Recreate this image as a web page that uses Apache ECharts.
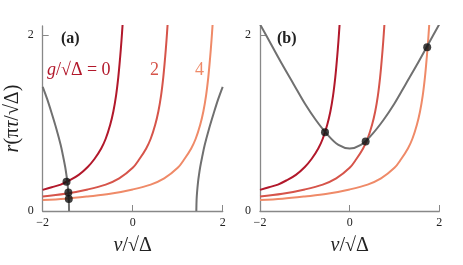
<!DOCTYPE html>
<html><head><meta charset="utf-8">
<script src="https://cdn.jsdelivr.net/npm/echarts@6/dist/echarts.min.js"></script>
<style>html,body{margin:0;padding:0;background:#fff}#c{width:463px;height:265px}</style>
</head><body><div id="c"></div>
<script>
// red curves r(v) for g/sqrt(Delta) = 0, 2, 4 (same in both panels)
const vG0 = [-2.0,-1.8,-1.6,-1.4,-1.2,-1.0,-0.85,-0.7,-0.6,-0.5,-0.43,-0.37,-0.32,-0.28,-0.25,-0.22];
const rG0 = [0.24,0.27,0.30,0.35,0.41,0.50,0.59,0.71,0.82,0.98,1.13,1.31,1.52,1.74,1.93,2.15];
const vG2 = [-2.0,-1.5,-1.0,-0.6,-0.3,0.0,0.15,0.3,0.4,0.5,0.57,0.63,0.68,0.72,0.75,0.78];
const rG2 = [0.165,0.195,0.245,0.30,0.37,0.49,0.59,0.71,0.82,0.98,1.13,1.31,1.52,1.74,1.93,2.15];
const vG4 = [-2.0,-1.5,-1.0,-0.5,0.0,0.4,0.7,1.0,1.15,1.3,1.4,1.5,1.57,1.63,1.68,1.72,1.75,1.78];
const rG4 = [0.125,0.14,0.165,0.195,0.245,0.30,0.37,0.49,0.59,0.71,0.82,0.98,1.13,1.31,1.52,1.74,1.93,2.15];
// gray curves
const vGrayAL = [-2.0,-1.9,-1.8,-1.7,-1.6,-1.55,-1.5,-1.47,-1.45,-1.43,-1.42,-1.414];
const rGrayAL = [1.41,1.27,1.11,0.94,0.75,0.63,0.50,0.40,0.32,0.21,0.13,0.0];
const vGrayAR = [1.414,1.42,1.43,1.45,1.47,1.5,1.55,1.6,1.7,1.8,1.9,2.0];
const rGrayAR = [0.0,0.13,0.21,0.32,0.40,0.50,0.63,0.75,0.94,1.11,1.27,1.41];
const vGrayB = [-2.0,-1.75,-1.5,-1.25,-1.0,-0.75,-0.5,-0.25,0.0,0.25,0.5,0.75,1.0,1.25,1.5,1.75,2.0];
const rGrayB = [2.12,1.89,1.66,1.44,1.22,1.03,0.87,0.75,0.71,0.75,0.87,1.03,1.22,1.44,1.66,1.89,2.12];
// intersection dots
const dotsA = [[-1.47,0.333],[-1.43,0.21],[-1.42,0.136]];
const dotsB = [[-0.55,0.894],[0.357,0.79],[1.73,1.86]];
const xTicks = [-2,0,2];
const yTicks = [0,2];

const zip = (a,b) => a.map((v,i)=>[v,b[i]]);
const colors = ['#b2182b','#d6544a','#ef8a68'];
const gray = '#707070';
const serif = 'Liberation Serif';

function line(data, color, idx){
  return {type:'line', data, xAxisIndex:idx, yAxisIndex:idx, smooth:0.35,
    showSymbol:false, lineStyle:{color, width:2}, z:2, clip:true};
}
const series = [];
[0,1].forEach(i=>{
  series.push(line(zip(vG0,rG0), colors[0], i));
  series.push(line(zip(vG2,rG2), colors[1], i));
  series.push(line(zip(vG4,rG4), colors[2], i));
});
series.push(line(zip(vGrayAL,rGrayAL), gray, 0));
series.push(line(zip(vGrayAR,rGrayAR), gray, 0));
series.push(line(zip(vGrayB,rGrayB), gray, 1));
series.push({type:'scatter', data:dotsA, xAxisIndex:0, yAxisIndex:0, symbolSize:8, itemStyle:{color:'#111'}, z:5});
series.push({type:'scatter', data:dotsB, xAxisIndex:1, yAxisIndex:1, symbolSize:8, itemStyle:{color:'#111'}, z:5});

const nameStyle = {fontFamily:serif, fontSize:20, color:'#222',
  rich:{i:{fontFamily:serif, fontStyle:'italic', fontSize:20, color:'#222'}}};
function xAx(idx){
  return {type:'value', gridIndex:idx, min:-2, max:2, interval:2,
    axisLine:{onZero:false, lineStyle:{color:'#888', width:1.3}},
    axisTick:{inside:true, length:6, lineStyle:{color:'#888'}, customValues:xTicks},
    axisLabel:{color:'#222', fontFamily:serif, fontSize:12, margin:6, customValues:xTicks,
      formatter:v=>String(v).replace('-','\u2212')},
    splitLine:{show:false},
    name:'{i|v}/\u221A\u0394', nameLocation:'middle', nameGap:25,
    nameTextStyle:nameStyle};
}
function yAx(idx, named){
  const a = {type:'value', gridIndex:idx, min:0, max:2.1,
    axisLine:{show:true, onZero:false, lineStyle:{color:'#888', width:1.3}},
    axisTick:{show:true, inside:true, length:6, lineStyle:{color:'#888'}, customValues:yTicks},
    axisLabel:{color:'#222', fontFamily:serif, fontSize:12, margin:9, customValues:yTicks},
    splitLine:{show:false}};
  if(named){
    a.name='{i|r}(\u03C0{i|\u03C4}/\u221A\u0394)'; a.nameLocation='middle'; a.nameGap=20;
    a.nameTextStyle=nameStyle;
  }
  return a;
}

const chart = echarts.init(document.getElementById('c'));
chart.setOption({
  animation:false,
  grid:[
    {left:42.7, right:240.3, top:26, bottom:54},
    {left:260, right:23.7, top:26, bottom:54}
  ],
  xAxis:[xAx(0), xAx(1)],
  yAxis:[yAx(0,true), yAx(1,false)],
  graphic:[
    {type:'text', left:61, top:31, style:{text:'(a)', font:'bold 16px "Liberation Serif"', fill:'#222'}},
    {type:'text', left:277, top:31, style:{text:'(b)', font:'bold 16px "Liberation Serif"', fill:'#222'}},
    {type:'text', left:47, top:61, style:{text:'{i|g}/\u221A\u0394 = 0', font:'18px "Liberation Serif"', fill:colors[0],
      rich:{i:{font:'italic 18px "Liberation Serif"', fill:colors[0]}}}},
    {type:'text', left:150, top:61, style:{text:'2', font:'18px "Liberation Serif"', fill:colors[1]}},
    {type:'text', left:195, top:61, style:{text:'4', font:'18px "Liberation Serif"', fill:colors[2]}}
  ],
  series
});
</script></body></html>
